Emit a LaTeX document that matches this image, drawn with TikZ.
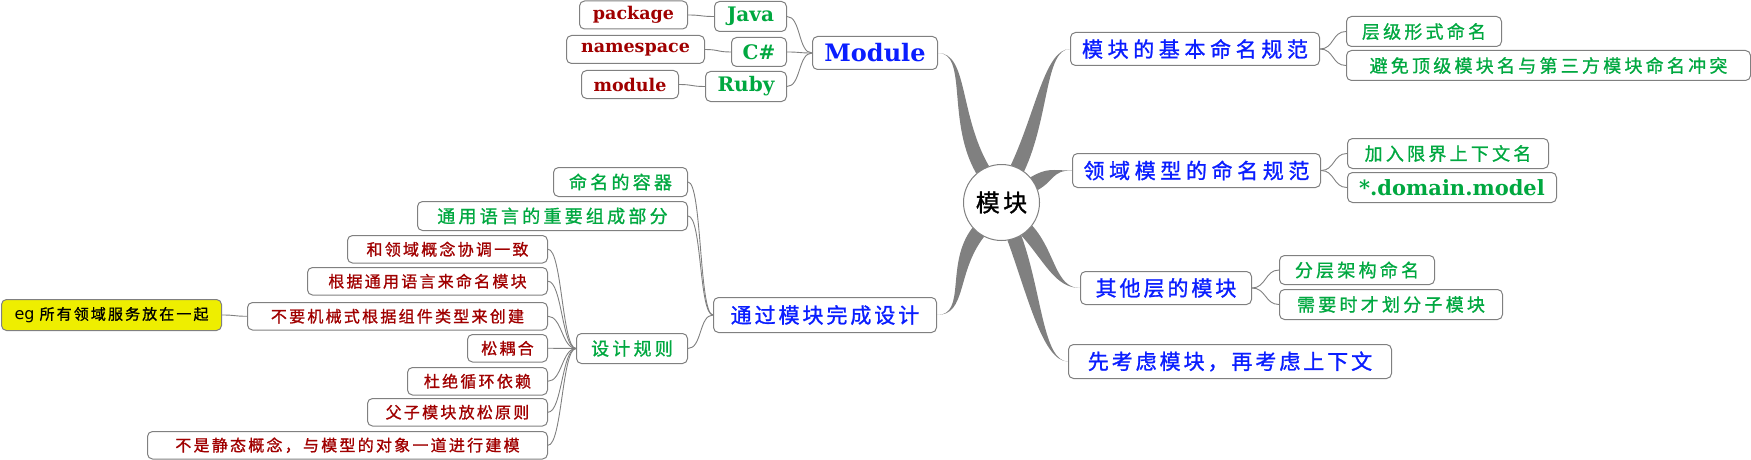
\documentclass[tikz,border=0pt]{standalone}
\usepackage{fontspec}
\setmainfont{DejaVu Serif}
\newfontfamily\cjkfont{Noto Sans CJK SC}[LetterSpace=14, FakeBold=1.2]
\newfontfamily\cjkwidefont{Noto Sans CJK SC}[LetterSpace=22, FakeBold=1.2]
\newfontfamily\cjksubfont{Noto Sans CJK SC}[LetterSpace=18, FakeBold=1]
\newfontfamily\cjkrulefont{Noto Sans CJK SC}[LetterSpace=14, FakeBold=1]
\newfontfamily\egfont{DejaVu Sans}
\usetikzlibrary{backgrounds}

\definecolor{linegray}{RGB}{128,128,128}
\definecolor{topicblue}{RGB}{10,30,255}
\definecolor{subgreen}{RGB}{0,168,64}
\definecolor{leafred}{RGB}{160,0,0}
\definecolor{egyellow}{RGB}{238,238,0}

\tikzset{
  box/.style={draw=linegray, line width=1pt, rounded corners=5pt, fill=white, inner sep=0pt, anchor=north west},
  topic/.style={box, text=topicblue, font=\cjkfont\fontsize{21}{21}\selectfont},
  subtopic/.style={box, text=subgreen, font=\cjksubfont\fontsize{18}{18}\selectfont},
  rule/.style={box, anchor=north east, text=leafred, font=\cjkrulefont\fontsize{16}{16}\selectfont, minimum height=27.5},
  lang/.style={box, text=subgreen, font=\rmfamily\bfseries\fontsize{20}{20}\selectfont},
  kw/.style={box, text=leafred, font=\rmfamily\bfseries\fontsize{17.5}{17.5}\selectfont},
  link/.style={draw=linegray, line width=0.9pt},
  branch/.style={fill=linegray},
}

\begin{document}
\begin{tikzpicture}[x=1pt, y=1pt]
\useasboundingbox (0,0) rectangle (1751,459);

% centre
\node[circle, draw=linegray, line width=1pt, fill=white, minimum size=76, inner sep=0pt,
  font=\cjkfont\fontsize{24}{24}\selectfont] (hub) at (1001.5,256.5) {模块};

% right side
\node[topic, font=\cjkwidefont\fontsize{21}{21}\selectfont, minimum width=249, minimum height=33] (naming) at (1070,427) {模块的基本命名规范};
\node[topic, font=\cjkwidefont\fontsize{21}{21}\selectfont, minimum width=248, minimum height=34] (domain) at (1072,306) {领域模型的命名规范};
\node[topic, minimum width=171, minimum height=33] (layers) at (1080,188) {其他层的模块};
\node[topic, minimum width=323, minimum height=34] (first) at (1068,115) {先考虑模块，再考虑上下文};

\node[subtopic, minimum width=155, minimum height=30] (level) at (1346,443) {层级形式命名};
\node[subtopic, minimum width=404, minimum height=30] (avoid) at (1346,409) {避免顶级模块名与第三方模块命名冲突};
\node[subtopic, minimum width=201, minimum height=30] (context) at (1347,321) {加入限界上下文名};
\node[subtopic, font=\rmfamily\bfseries\fontsize{21}{21}\selectfont, minimum width=209, minimum height=30] (dmodel) at (1347,287) {*.domain.model};
\node[subtopic, minimum width=155, minimum height=29] (layered) at (1279,204) {分层架构命名};
\node[subtopic, minimum width=223, minimum height=30] (submod) at (1279,170) {需要时才划分子模块};

% left side
\node[box, text=topicblue, font=\rmfamily\bfseries\fontsize{24}{24}\selectfont, minimum width=125, minimum height=33] (module) at (812,423) {Module};
\node[topic, minimum width=223, minimum height=35] (design) at (713,162) {通过模块完成设计};

\node[lang, minimum width=72, minimum height=30] (java) at (714,458) {Java};
\node[lang, minimum width=55, minimum height=29] (csharp) at (731,422) {C\#};
\node[lang, minimum width=81, minimum height=30] (ruby) at (705,388) {Ruby};
\node[kw, minimum width=108, minimum height=28] (package) at (579,458.5) {package};
\node[kw, minimum width=138, minimum height=28] (namespace) at (566,424) {namespace};
\node[kw, minimum width=97, minimum height=28] (modkw) at (581,389) {module};

\node[subtopic, minimum width=134, minimum height=29] (container) at (553,292) {命名的容器};
\node[subtopic, minimum width=270, minimum height=29] (ubiq) at (417,258) {通用语言的重要组成部分};
\node[subtopic, minimum width=111, minimum height=30] (rules) at (576,126) {设计规则};

% design rules, right edges lined up
\foreach \n/\y/\w/\t in {r1/224/200/和领域概念协调一致, r2/192/240/根据通用语言来命名模块,
    r3/157/300/不要机械式根据组件类型来创建, r4/125/80/松耦合, r5/92/140/杜绝循环依赖,
    r6/61/180/父子模块放松原则, r7/28/400/不是静态概念，与模型的对象一道进行建模}
  \node[rule, minimum width=\w] (\n) at (548,\y) {\t};

\node[box, fill=egyellow, text=black, font=\egfont\fontsize{16}{16}\selectfont, minimum width=220, minimum height=31] (eg) at (1,160)
  {eg {\cjkrulefont\fontsize{15}{15}\selectfont 所有领域服务放在一起}};

% thin links
\foreach \a/\b in {naming/level, naming/avoid, domain/context, domain/dmodel, layers/layered, layers/submod,
    java/module, csharp/module, ruby/module, package/java, namespace/csharp, modkw/ruby,
    container/design, ubiq/design, rules/design, eg/r3,
    r1/rules, r2/rules, r3/rules, r4/rules, r5/rules, r6/rules, r7/rules}
  \draw[link] (\a.east) .. controls +(14,0) and +(-14,0) .. (\b.west);

% thick branches from the centre
\begin{scope}[on background layer]
\foreach \a/\e/\s/\r/\k in {120/module.east/1/60/30, 232/design.east/1/45/30, 65/naming.west/-1/60/25,
    30/domain.west/-1/20/20, 312/layers.west/-1/35/25, 290/first.west/-1/60/25} {
  \pgfmathtruncatemacro\aa{\a-11}
  \pgfmathtruncatemacro\ab{\a+11}
  \fill[branch] (hub.\aa) .. controls +(\a:\r) and +(\s*\k,0) .. (\e)
    .. controls +(\s*\k,0) and +(\a:\r) .. (hub.\ab) -- cycle;
}
\end{scope}

\end{tikzpicture}
\end{document}
